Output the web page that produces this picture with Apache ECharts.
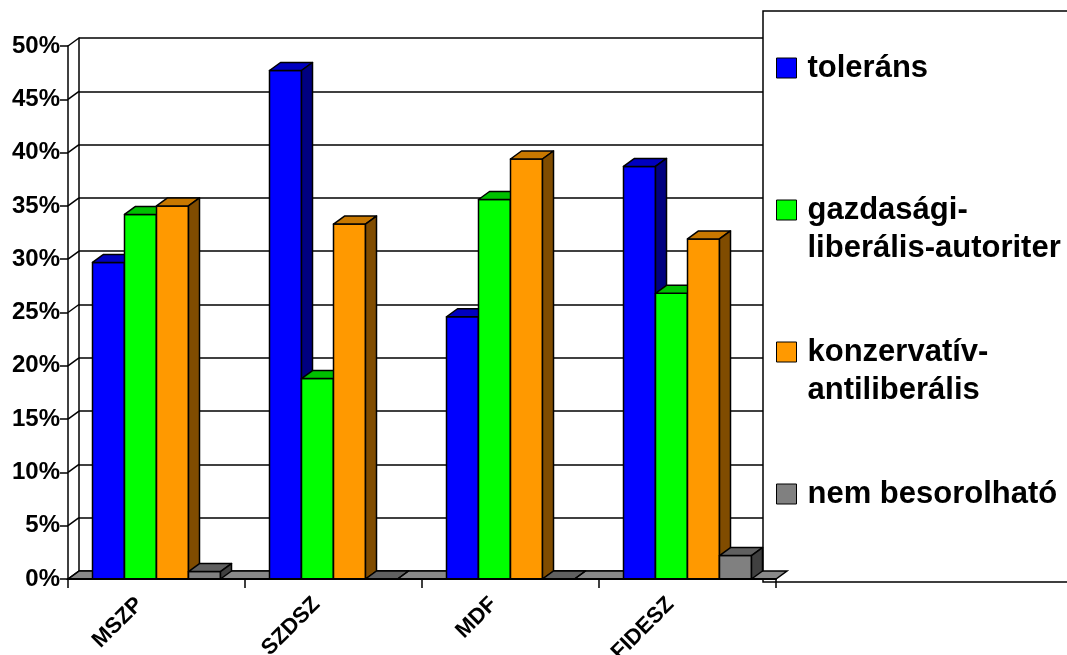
<!DOCTYPE html>
<html>
<head>
<meta charset="utf-8">
<script src="https://cdn.jsdelivr.net/npm/echarts@6/dist/echarts.min.js"></script>
<style>
html,body{margin:0;padding:0;background:#fff;}
#chart{width:1067px;height:655px;}
</style>
</head>
<body>
<div id="chart"></div>
<script>
// ---- data ----
const categories = ['MSZP', 'SZDSZ', 'MDF', 'FIDESZ'];
const seriesNames = ['toleráns', 'gazdasági-liberális-autoriter', 'konzervatív-antiliberális', 'nem besorolható'];
const tolerans = [29.7, 47.7, 24.6, 38.7];
const gazdasagi = [34.2, 18.8, 35.6, 26.8];
const konzervativ = [35.0, 33.3, 39.4, 31.9];
const nemBesorolhato = [0.7, 0, 0, 2.2];
const yTicks = [0, 5, 10, 15, 20, 25, 30, 35, 40, 45, 50];
const legendLabels = ['\ntoleráns\n', '\ngazdasági-\nliberális-autoriter', '\nkonzervatív-\nantiliberális', '\nnem besorolható\n'];

// ---- style ----
const DX = 11, DY = 8;
const FONT = 'Liberation Sans, Arial, sans-serif';
const palettes = [
  { front: '#0000FF', top: '#0000C0', side: '#000080' },
  { front: '#00FF00', top: '#00C000', side: '#008000' },
  { front: '#FF9900', top: '#C87800', side: '#804C00' },
  { front: '#808080', top: '#606060', side: '#404040' }
];
const allValues = [tolerans, gazdasagi, konzervativ, nemBesorolhato];

const chart = echarts.init(document.getElementById('chart'));

function barRender(sIdx) {
  return function (params, api) {
    const cat = api.value(0);
    const val = api.value(1);
    const top = api.coord([cat, val]);
    const base = api.coord([cat, 0]);
    const band = api.size([1, 0])[0];
    const w = band * 32 / 177;
    const x0 = top[0] - 2 * w + sIdx * w;
    const yt = top[1], yb = base[1];
    const p = palettes[sIdx];
    const stroke = { stroke: '#000', lineWidth: 1.5, lineJoin: 'round' };
    return {
      type: 'group',
      children: [
        { type: 'rect', shape: { x: x0, y: yt, width: w, height: yb - yt },
          style: Object.assign({ fill: p.front }, stroke) },
        { type: 'polygon', shape: { points: [[x0, yt], [x0 + w, yt], [x0 + w + DX, yt - DY], [x0 + DX, yt - DY]] },
          style: Object.assign({ fill: p.top }, stroke) },
        { type: 'polygon', shape: { points: [[x0 + w, yt], [x0 + w + DX, yt - DY], [x0 + w + DX, yb - DY], [x0 + w, yb]] },
          style: Object.assign({ fill: p.side }, stroke) }
      ]
    };
  };
}

const barSeries = seriesNames.map((name, i) => ({
  name: name,
  type: 'custom',
  xAxisIndex: 0, yAxisIndex: 0,
  z: 3,
  itemStyle: { color: palettes[i].front },
  renderItem: barRender(i),
  data: allValues[i].map((v, c) => [c, v])
}));

const option = {
  animation: false,
  backgroundColor: '#fff',
  textStyle: { fontFamily: FONT },
  grid: [
    { left: 68, top: 46, width: 708, height: 533, containLabel: false, outerBoundsMode: 'none' },
    { left: 68 + DX, top: 46 - DY, width: 708, height: 533, containLabel: false, outerBoundsMode: 'none' }
  ],
  xAxis: [
    {
      type: 'category', gridIndex: 0, data: categories, z: 5,
      axisLine: { lineStyle: { color: '#000', width: 2 } },
      axisTick: { show: true, length: 9, interval: 0, lineStyle: { color: '#000', width: 1.5 } },
      axisLabel: { rotate: 45, margin: 5, interval: 0, padding: [0, 24, 0, 0],
        color: '#000', fontSize: 22, fontWeight: 'bold', fontFamily: FONT },
      splitLine: { show: false }
    },
    { type: 'category', gridIndex: 1, data: categories, show: false }
  ],
  yAxis: [
    {
      type: 'value', gridIndex: 0, min: 0, max: 50, interval: 5,
      axisLine: { show: true, lineStyle: { color: '#000', width: 1.5 } },
      axisTick: { show: true, length: 8, lineStyle: { color: '#000', width: 1.5 } },
      axisLabel: { formatter: '{value}%', margin: 8, color: '#000', fontSize: 24, fontWeight: 'bold', fontFamily: FONT },
      splitLine: { show: false }
    },
    {
      type: 'value', gridIndex: 1, min: 0, max: 50, interval: 5,
      axisLine: { show: true, lineStyle: { color: '#000', width: 1.5 } },
      axisTick: { show: false },
      axisLabel: { show: false },
      splitLine: { show: true, lineStyle: { color: '#000', width: 1.5 } }
    }
  ],
  legend: {
    orient: 'vertical',
    left: 776, top: 11,
    padding: 0,
    itemGap: 28,
    itemWidth: 20, itemHeight: 20,
    icon: 'rect',
    itemStyle: { borderColor: '#000', borderWidth: 1 },
    data: seriesNames,
    formatter: function (name) { return legendLabels[seriesNames.indexOf(name)]; },
    textStyle: { fontSize: 31, fontWeight: 'bold', fontFamily: FONT, color: '#000', lineHeight: 38, padding: [0, 0, 0, 6] },
    selectedMode: false
  },
  graphic: [
    { type: 'rect', z: 1, shape: { x: 763, y: 11, width: 400, height: 571 },
      style: { fill: '#fff', stroke: '#000', lineWidth: 1.5 } }
  ],
  series: [
    {
      type: 'custom', name: 'floor', xAxisIndex: 0, yAxisIndex: 0, z: 2,
      data: [[0, 0]],
      renderItem: function (params, api) {
        const cs = params.coordSys;
        const yb = cs.y + cs.height;
        return { type: 'polygon',
          shape: { points: [[cs.x, yb], [cs.x + cs.width, yb], [cs.x + cs.width + DX, yb - DY], [cs.x + DX, yb - DY]] },
          style: { fill: '#888888', stroke: '#000', lineWidth: 1.5 } };
      }
    },
    {
      type: 'custom', name: 'wall', xAxisIndex: 0, yAxisIndex: 0, z: 2,
      data: yTicks.map(v => [0, v]),
      renderItem: function (params, api) {
        const cs = params.coordSys;
        const y = api.coord([0, api.value(1)])[1];
        return { type: 'line', shape: { x1: cs.x, y1: y, x2: cs.x + DX, y2: y - DY },
          style: { stroke: '#000', lineWidth: 1.5 } };
      }
    }
  ].concat(barSeries)
};
chart.setOption(option);
</script>
</body>
</html>
